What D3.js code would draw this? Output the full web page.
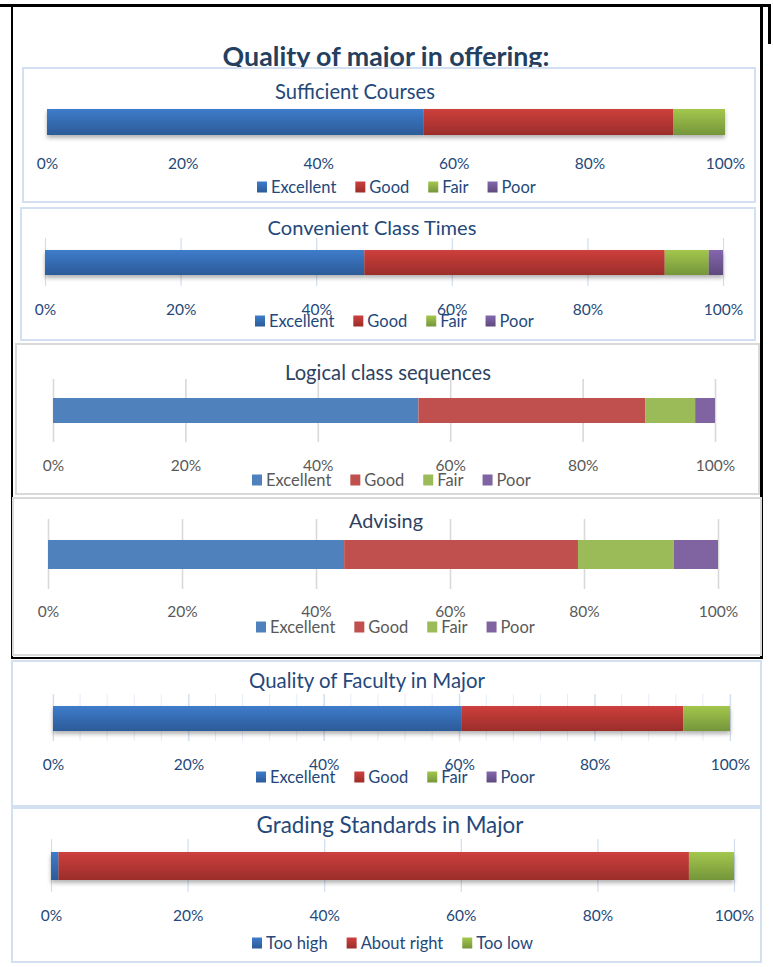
<!DOCTYPE html>
<html>
<head>
<meta charset="utf-8">
<script src="https://cdn.jsdelivr.net/npm/d3@7"></script>
<style>
body{margin:0;background:#fff}
svg{display:block;font-family:Lato,"Open Sans",sans-serif}
</style>
</head>
<body>
<svg width="773" height="967"></svg>
<script>
// ---- données ----
const mainTitle = "Quality of major in offering:";
const chartTitles = ["Sufficient Courses","Convenient Class Times","Logical class sequences",
                     "Advising","Quality of Faculty in Major","Grading Standards in Major"];
const ratingKeys = ["Excellent","Good","Fair","Poor"];
const gradingKeys = ["Too high","About right","Too low"];
const sufficientCourses = [55.5, 36.9, 7.6, 0];
const convenientTimes   = [47.1, 44.3, 6.5, 2.1];
const logicalSequences  = [55.2, 34.3, 7.5, 3.0];
const advising          = [44.2, 34.9, 14.3, 6.6];
const facultyQuality    = [60.3, 32.8, 6.9, 0];
const gradingStandards  = [1.1, 92.3, 6.6];
const tickValues = [0, 20, 40, 60, 80, 100];

// ---- mise en page (à ajuster à l'oeil) ----
const panels = [
  {title:chartTitles[0], keys:ratingKeys, values:sufficientCourses, look:"gloss",
   box:[23,68,755,202], axis:[47,725], bar:[109,135], grid:null,
   titleX:355, titleY:92, titleW:160, tickY:164, legendX:257, legendY:187},
  {title:chartTitles[1], keys:ratingKeys, values:convenientTimes, look:"gloss",
   box:[21,208,755,340], axis:[45,723], bar:[250,275], grid:[238,286],
   titleX:372, titleY:228, titleW:209, tickY:310, legendX:255, legendY:321},
  {title:chartTitles[2], keys:ratingKeys, values:logicalSequences, look:"flat",
   box:[16,344,759,494], axis:[53,715], bar:[398,423], grid:[379,442],
   titleX:388, titleY:373, titleW:206, tickY:466, legendX:252, legendY:480},
  {title:chartTitles[3], keys:ratingKeys, values:advising, look:"flat",
   box:[13,498,761,655], axis:[48,718], bar:[540,569], grid:[519,589],
   titleX:386, titleY:521, titleW:74, tickY:612, legendX:256, legendY:627},
  {title:chartTitles[4], keys:ratingKeys, values:facultyQuality, look:"gloss",
   box:[12,661,761,806], axis:[53,730], bar:[706,731], grid:[694,741], minor:4,
   titleX:367, titleY:681, titleW:236, tickY:765, legendX:256, legendY:777},
  {title:chartTitles[5], keys:gradingKeys, values:gradingStandards, look:"gloss",
   box:[12,808,761,962], axis:[51,734], bar:[852,880], grid:[839,892],
   titleX:390, titleY:825, titleW:267, tickY:916, legendX:252, legendY:943}
];

const looks = {
  gloss:{text:"#24487A", title:"#24487A", grid:"#D2DEEF", gridW:1.2, border:"#D3E0F1",
         colors:[["#3E7CCB","#2C5B98"],["#CD403D","#9B2D2A"],["#A3C74D","#75953A"],["#8467AE","#5E4A7C"]]},
  flat: {text:"#595959", title:"#2D4262", grid:"#D9D9D9", gridW:1.6, border:"#D9D9D9",
         colors:[["#4F81BD"],["#C0504D"],["#9BBB59"],["#8064A2"]]}
};

const svg = d3.select("svg");
const defs = svg.append("defs");

// dégradés façon Excel 2007
looks.gloss.colors.forEach((c,i)=>{
  const g = defs.append("linearGradient").attr("id","grad"+i)
      .attr("x1",0).attr("y1",0).attr("x2",0).attr("y2",1);
  g.append("stop").attr("offset","0%").attr("stop-color",c[0]);
  g.append("stop").attr("offset","100%").attr("stop-color",c[1]);
});
defs.append("filter").attr("id","shadow").attr("x","-5%").attr("y","-30%")
    .attr("width","110%").attr("height","180%")
  .append("feDropShadow").attr("dx",0).attr("dy",3).attr("stdDeviation",2)
    .attr("flood-color","#000").attr("flood-opacity",0.3);

// ajuste la taille de police pour tenir dans une largeur donnée
function fit(text, w){
  const len = text.node().getComputedTextLength();
  const fs = parseFloat(text.attr("font-size"));
  text.attr("font-size", fs*w/len);
}

// titre général (coupé par le premier cadre)
const mt = svg.append("text").attr("x",386).attr("y",66).attr("text-anchor","middle")
   .attr("font-size",24).attr("font-weight","bold").attr("fill","#243F60").text(mainTitle);
fit(mt, 327);

// cadres noirs du document
const frame = [[0,4,771,3],[11,5,2,654],[760,5,3,654],[768,4,3,40],[11,657,752,2]];
svg.selectAll("rect.frame").data(frame).enter().append("rect")
   .attr("x",d=>d[0]).attr("y",d=>d[1]).attr("width",d=>d[2]).attr("height",d=>d[3])
   .attr("fill","#000");

panels.forEach(function(p){
  const lk = looks[p.look];
  const g = svg.append("g");
  const [bx0,by0,bx1,by1] = p.box;
  g.append("rect").attr("x",bx0).attr("y",by0).attr("width",bx1-bx0).attr("height",by1-by0)
   .attr("fill","#fff").attr("stroke",lk.border).attr("stroke-width",2);

  const x = d3.scaleLinear().domain([0,100]).range(p.axis);

  // quadrillage
  if (p.grid){
    const [gy0,gy1] = p.grid;
    if (p.minor){
      g.append("g").selectAll("line").data(d3.range(0,101,p.minor)).enter().append("line")
       .attr("x1",d=>x(d)).attr("x2",d=>x(d)).attr("y1",gy0).attr("y2",gy1)
       .attr("stroke","#E6EDF7").attr("stroke-width",1);
    }
    const ga = g.append("g").attr("transform",`translate(0,${gy1})`)
      .call(d3.axisBottom(x).tickValues(tickValues).tickSize(-(gy1-gy0)).tickFormat(""));
    ga.select(".domain").remove();
    ga.selectAll("line").attr("stroke",lk.grid).attr("stroke-width",lk.gridW);
  }

  // barre empilée
  const row = {}; p.keys.forEach((k,i)=>row[k]=p.values[i]);
  const stack = d3.stack().keys(p.keys)([row]);
  const bars = g.append("g");
  if (p.look=="gloss") bars.attr("filter","url(#shadow)");
  bars.selectAll("rect").data(stack).enter().append("rect")
     .attr("x",d=>x(d[0][0])).attr("width",d=>x(d[0][1])-x(d[0][0]))
     .attr("y",p.bar[0]).attr("height",p.bar[1]-p.bar[0])
     .attr("fill",(d,i)=>p.look=="gloss" ? `url(#grad${i})` : lk.colors[i][0]);

  // étiquettes de l'axe
  const ax = g.append("g").attr("transform",`translate(0,${p.tickY})`)
    .call(d3.axisBottom(x).tickValues(tickValues).tickSize(0).tickPadding(0).tickFormat(d=>d+"%"));
  ax.select(".domain").remove();
  ax.selectAll("text").attr("font-size",15.5).attr("font-family","Lato")
    .attr("fill",lk.text).attr("dy","0.35em").attr("y",0);

  // titre
  const t = g.append("text").attr("x",p.titleX).attr("y",p.titleY).attr("dy","0.35em")
   .attr("text-anchor","middle").attr("font-size",19).attr("fill",lk.title).text(p.title);
  fit(t, p.titleW);

  // légende
  let lx = p.legendX;
  p.keys.forEach(function(k,i){
    g.append("rect").attr("x",lx).attr("y",p.legendY-5.5).attr("width",10).attr("height",11)
     .attr("fill",p.look=="gloss" ? `url(#grad${i})` : lk.colors[i][0]);
    const tx = g.append("text").attr("x",lx+14).attr("y",p.legendY).attr("dy","0.35em")
     .attr("font-size",16.5).attr("fill",lk.text).text(k);
    lx += 14 + tx.node().getComputedTextLength() + 19;
  });
});
</script>
</body>
</html>
